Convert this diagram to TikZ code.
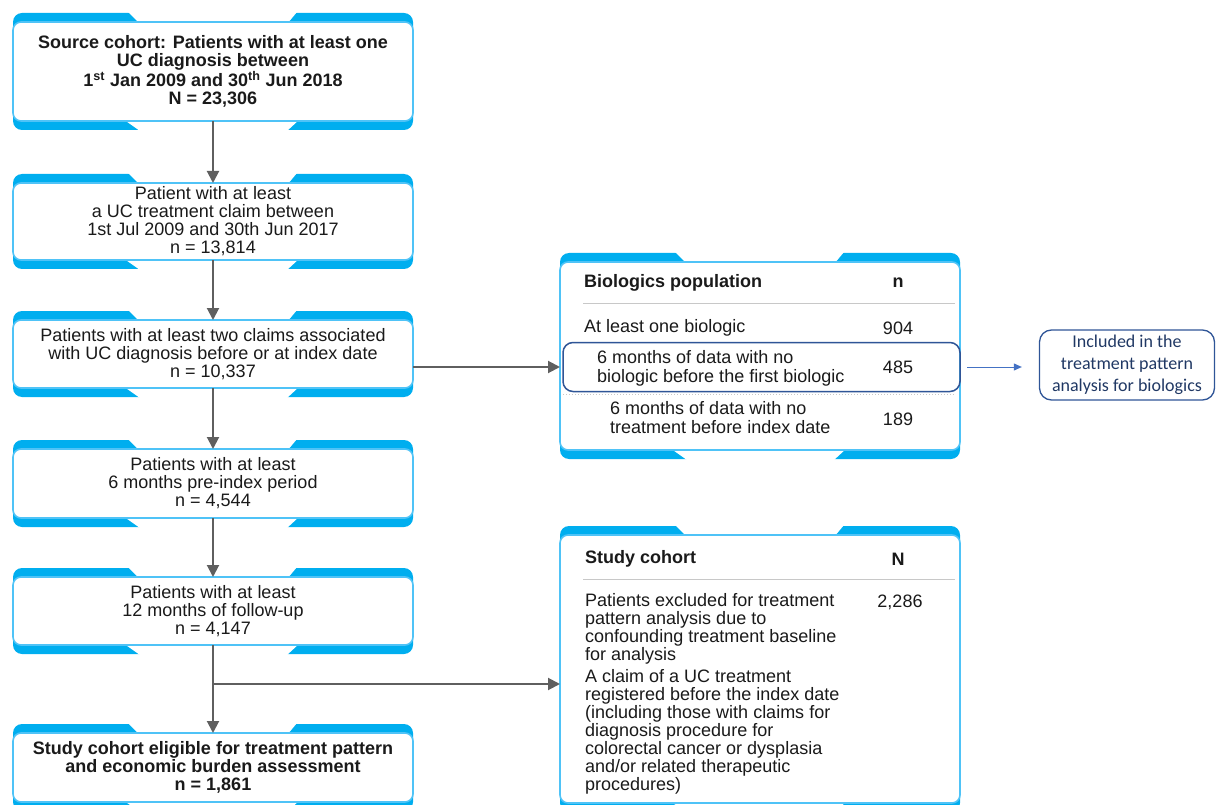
\documentclass[tikz,border=0pt]{standalone}
\usepackage{fontspec}
\setmainfont{Liberation Sans}
\newfontfamily\calib{Carlito}
\usetikzlibrary{arrows.meta,backgrounds}
\definecolor{tabblue}{HTML}{00AEEF}
\definecolor{edgeblue}{HTML}{4FC3F7}
\definecolor{arrgray}{HTML}{5F5F5F}
\definecolor{navy}{HTML}{2F5597}
\definecolor{navytext}{HTML}{203864}
\definecolor{lightarrow}{HTML}{4472C4}
\definecolor{sepgray}{HTML}{C8C8C8}
\definecolor{ink}{HTML}{1A1A1A}

\newcommand\boxtabs[1]{%
 \begin{scope}[on background layer]
  \fill[tabblue,rounded corners=9pt] ([yshift=9pt]#1.north west) rectangle ([yshift=-9pt]#1.south east);
  \fill[white] ([xshift=115pt,yshift=10pt]#1.north west) -- ([xshift=-116pt,yshift=10pt]#1.north east) -- ([xshift=-126pt,yshift=-2pt]#1.north east) -- ([xshift=127pt,yshift=-2pt]#1.north west) -- cycle;
  \fill[white] ([xshift=110pt,yshift=2pt]#1.south west) -- ([xshift=-113pt,yshift=2pt]#1.south east) -- ([xshift=-126pt,yshift=-10pt]#1.south east) -- ([xshift=127pt,yshift=-10pt]#1.south west) -- cycle;
 \end{scope}}

\tikzset{
 flow/.style={draw=edgeblue, line width=1.6pt, fill=white, rounded corners=8pt,
   minimum width=400pt, inner sep=0pt, outer sep=0pt, align=center, text=ink,
   font=\fontsize{18}{18}\selectfont},
 flowb/.style={flow, font=\bfseries\fontsize{18}{18}\selectfont},
 panel/.style={draw=edgeblue, line width=1.6pt, fill=white, rounded corners=8pt,
   minimum width=400pt, inner sep=0pt, outer sep=0pt},
 txt/.style={inner sep=0pt, text=ink, font=\fontsize{18}{19}\selectfont},
 hdr/.style={inner sep=0pt, text=ink, font=\bfseries\fontsize{18}{19}\selectfont},
 rule/.style={draw=sepgray, line width=1pt},
 arr/.style={draw=arrgray, line width=2pt, -{Triangle[length=12pt,width=12pt]}},
 barr/.style={draw=lightarrow, line width=1pt, -{Triangle[length=8pt,width=7pt]}},
}

\begin{document}
\begin{tikzpicture}[x=1pt,y=-1pt]
\useasboundingbox (0,0) rectangle (1216,805);

% left column
\node[flowb, minimum height=99pt] (b1) at (213,71.5)
  {Source cohort: Patients with at least one\\UC diagnosis between\\1\textsuperscript{st} Jan 2009 and 30\textsuperscript{th} Jun 2018\\N = 23,306};
\boxtabs{b1}
\node[flow, minimum height=77pt] (b2) at (213,221.5)
  {Patient with at least\\a UC treatment claim between\\1st Jul 2009 and 30th Jun 2017\\n = 13,814};
\boxtabs{b2}
\node[flow, minimum height=68pt] (b3) at (213,354)
  {Patients with at least two claims associated\\with UC diagnosis before or at index date\\n = 10,337};
\boxtabs{b3}
\node[flow, minimum height=69pt] (b4) at (213,483.5)
  {Patients with at least\\6 months pre-index period\\n = 4,544};
\boxtabs{b4}
\node[flow, minimum height=68pt] (b5) at (213,611)
  {Patients with at least\\12 months of follow-up\\n = 4,147};
\boxtabs{b5}
\node[flowb, minimum height=69pt] (b6) at (213,767.5)
  {Study cohort eligible for treatment pattern\\and economic burden assessment\\n = 1,861};
\boxtabs{b6}

% biologics panel
\node[panel, minimum height=188pt] (bio) at (760,356) {};
\boxtabs{bio}
\node[hdr, anchor=west] (bioh) at (584,283) {Biologics population};
\node[hdr] (bion) at (898,283) {n};
\draw[rule] (583,303) -- (955,303);
\node[txt, anchor=west] (r1) at (584,328) {At least one biologic};
\node[txt] (r1n) at (898,328) {904};
\node[draw=navy, line width=1.5pt, rounded corners=10pt, minimum width=397pt,
      minimum height=49pt, inner sep=0pt, outer sep=0pt] (hl) at (761.5,367) {};
\node[txt, anchor=west, align=left] (r2) at (597,368)
  {6 months of data with no\\biologic before the first biologic};
\node[txt] (r2n) at (898,367) {485};
\draw[draw=sepgray, line width=1pt, dotted] (563,394) -- (955,394);
\node[txt, anchor=west, align=left] (r3) at (610,418)
  {6 months of data with no\\treatment before index date};
\node[txt] (r3n) at (898,419) {189};

% included box
\node[draw=navy, line width=1.3pt, rounded corners=12pt, minimum width=175pt,
      minimum height=70pt, inner sep=0pt, align=center, text=navytext,
      font=\calib\fontsize{18}{22}\selectfont] (inc) at (1127,365)
  {Included in the\\treatment pattern\\analysis for biologics};

% study cohort panel
\node[panel, minimum height=268pt] (stu) at (760,669) {};
\boxtabs{stu}
\node[hdr, anchor=west] (stuh) at (585,559) {Study cohort};
\node[hdr] (stun) at (898,559) {N};
\draw[rule] (583,579) -- (955,579);
\node[txt, anchor=west, align=left, font=\fontsize{18}{18}\selectfont] (s1) at (585,629)
  {Patients excluded for treatment\\pattern analysis due to\\confounding treatment baseline\\for analysis};
\node[txt] (s1n) at (900,602) {2,286};
\node[txt, anchor=west, align=left, font=\fontsize{18}{18}\selectfont] (s2) at (585,732)
  {A claim of a UC treatment\\registered before the index date\\(including those with claims for\\diagnosis procedure for\\colorectal cancer or dysplasia\\and/or related therapeutic\\procedures)};

% connectors
\draw[arr] (b1) -- (b2);
\draw[arr] (b2) -- (b3);
\draw[arr] (b3) -- (b4);
\draw[arr] (b4) -- (b5);
\draw[arr] (b5) -- (b6);
\draw[arr] (b3.east |- hl.west) -- (bio.west |- hl.west);
\coordinate (br) at (213,684);
\draw[arr] (br) -- (stu.west |- br);
\draw[barr, shorten <=7pt, shorten >=17pt] (hl.east) -- (inc.west |- hl.east);
\end{tikzpicture}
\end{document}
